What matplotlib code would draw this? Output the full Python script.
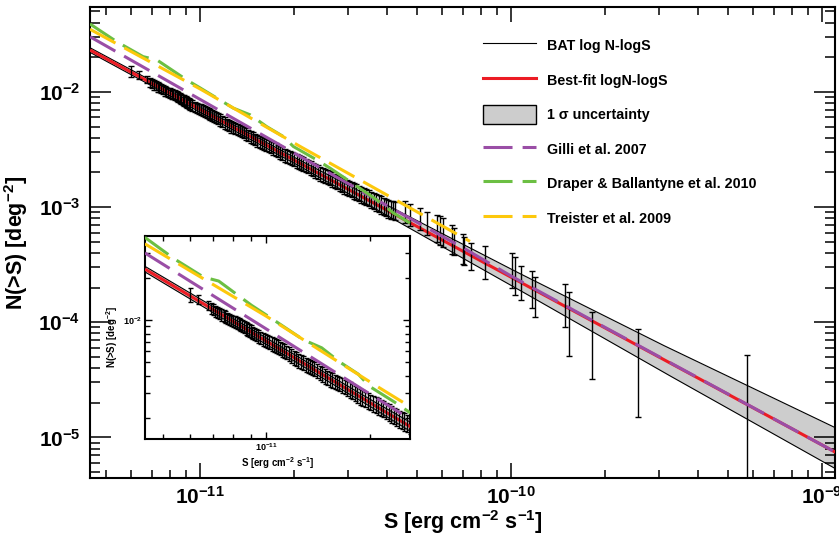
import numpy as np
import matplotlib
matplotlib.use("Agg")
import matplotlib.pyplot as plt
from matplotlib.lines import Line2D
from matplotlib.patches import Patch
from matplotlib.ticker import FixedLocator, FuncFormatter, LogLocator, NullFormatter

plt.rcParams["font.family"] = ["Liberation Sans", "DejaVu Sans"]
plt.rcParams["font.weight"] = "bold"
plt.rcParams["axes.labelweight"] = "bold"
plt.rcParams["mathtext.fontset"] = "custom"
plt.rcParams["mathtext.rm"] = "Liberation Sans:bold"
plt.rcParams["mathtext.it"] = "Liberation Sans:bold:italic"
plt.rcParams["mathtext.bf"] = "Liberation Sans:bold"
plt.rcParams["mathtext.default"] = "rm"

# ---------------- BAT cumulative counts, faint (dense) part ----------------
faint_flux = np.array([
    6.0, 6.34, 6.74, 6.9, 7.0, 7.1, 7.2, 7.3, 7.4, 7.5, 7.6, 7.7, 7.8, 7.9,
    8.0, 8.1, 8.2, 8.3, 8.4, 8.5, 8.6, 8.7, 8.8, 8.9, 9.0, 9.1, 9.2, 9.3,
    9.45, 9.6, 9.75, 9.9, 10.05, 10.2, 10.35, 10.5, 10.65, 10.8, 10.95, 11.1,
    11.25, 11.4, 11.6, 11.8, 12.0, 12.2, 12.4, 12.6, 12.8, 13.0, 13.2, 13.4,
    13.6, 13.8, 14.05, 14.3, 14.55, 14.8, 15.05, 15.3, 15.55, 15.8, 16.05,
    16.3, 16.6, 16.9, 17.2, 17.5, 17.8, 18.1, 18.4, 18.7, 19.05, 19.4, 19.75,
    20.1, 20.45, 20.8, 21.15, 21.5, 21.9, 22.3, 22.7, 23.1, 23.5, 23.9, 24.35,
    24.8, 25.25, 25.7, 26.15, 26.6, 27.1, 27.6, 28.1, 28.6, 29.1, 29.6, 30.15,
    30.7, 31.25, 31.8, 32.4, 33.0, 33.6, 34.2, 34.85, 35.5, 36.15, 36.8, 37.5,
    38.2, 38.9, 39.6, 40.3, 41.0, 41.75, 42.5]) * 1e-12
faint_counts = np.array([
    0.0150, 0.0140, 0.0127, 0.01215, 0.01182, 0.01150, 0.01128, 0.01105,
    0.01085, 0.01068, 0.01046, 0.01025, 0.01008, 0.00990, 0.00976, 0.00962,
    0.00948, 0.00935, 0.00918, 0.00905, 0.00888, 0.00872, 0.00855, 0.00840,
    0.00824, 0.00808, 0.00794, 0.00780, 0.00760, 0.00742, 0.00727, 0.00712,
    0.00700, 0.00688, 0.00674, 0.00662, 0.00650, 0.00640, 0.00625, 0.00612,
    0.00598, 0.00585, 0.00568, 0.00552, 0.00537, 0.00522, 0.00510, 0.00498,
    0.00489, 0.00480, 0.00471, 0.00462, 0.00453, 0.00445, 0.00432, 0.00420,
    0.00408, 0.00396, 0.00386, 0.00376, 0.00368, 0.00360, 0.00354, 0.00348,
    0.00340, 0.00332, 0.00324, 0.00316, 0.00307, 0.00298, 0.00290, 0.00282,
    0.00276, 0.00270, 0.00264, 0.00258, 0.00252, 0.00246, 0.00241, 0.00236,
    0.00230, 0.00224, 0.00218, 0.00212, 0.00206, 0.00200, 0.00195, 0.00190,
    0.00186, 0.00182, 0.00178, 0.00174, 0.00169, 0.00164, 0.00160, 0.00156,
    0.00152, 0.00149, 0.00145, 0.00142, 0.00138, 0.00135, 0.00131, 0.00128,
    0.00125, 0.00122, 0.00119, 0.00116, 0.00113, 0.00110, 0.00107, 0.00104,
    0.00101, 0.00099, 0.00097, 0.00095, 0.00094, 0.000925])
# 1-sigma error of each faint point, in dex
faint_err_dex = np.array([
    0.05, 0.034, 0.03, 0.04, 0.04, 0.04, 0.04, 0.04, 0.04, 0.04, 0.042, 0.042,
    0.042, 0.042, 0.042, 0.042, 0.042, 0.042, 0.045, 0.045, 0.045, 0.045,
    0.045, 0.045, 0.045, 0.045, 0.045, 0.045, 0.045, 0.045, 0.045, 0.045,
    0.048, 0.048, 0.048, 0.048, 0.048, 0.048, 0.048, 0.048, 0.048, 0.048,
    0.05, 0.05, 0.05, 0.05, 0.05, 0.05, 0.05, 0.05, 0.05, 0.05, 0.05, 0.05,
    0.05, 0.05, 0.052, 0.052, 0.052, 0.052, 0.052, 0.052, 0.052, 0.052,
    0.052, 0.052, 0.055, 0.055, 0.055, 0.055, 0.055, 0.055, 0.055, 0.055,
    0.055, 0.055, 0.058, 0.058, 0.058, 0.058, 0.058, 0.058, 0.06, 0.06, 0.06,
    0.06, 0.06, 0.06, 0.062, 0.062, 0.062, 0.062, 0.062, 0.062, 0.065, 0.065,
    0.065, 0.065, 0.065, 0.065, 0.068, 0.068, 0.068, 0.068, 0.07, 0.07, 0.07,
    0.07, 0.072, 0.072, 0.075, 0.075, 0.075, 0.075, 0.078, 0.078, 0.08, 0.08])

# ---------------- BAT cumulative counts, bright (sparse) part ----------------
bright_flux = np.array([
    4.56e-11, 4.73e-11, 5.09e-11, 5.37e-11, 5.78e-11, 5.92e-11, 6.04e-11,
    6.45e-11, 6.56e-11, 7.0e-11, 7.06e-11, 7.43e-11, 8.25e-11, 1.005e-10,
    1.03e-10, 1.074e-10, 1.166e-10, 1.194e-10, 1.49e-10, 1.54e-10, 1.817e-10,
    2.56e-10, 5.73e-10])
bright_counts = np.array([
    9.0e-4, 8.6e-4, 7.9e-4, 7.2e-4, 6.6e-4, 6.3e-4, 6.0e-4, 5.3e-4, 5.0e-4,
    4.4e-4, 4.2e-4, 3.75e-4, 3.3e-4, 2.8e-4, 2.5e-4, 2.2e-4, 1.95e-4, 1.7e-4,
    1.4e-4, 1.0e-4, 7.0e-5, 4.6e-5, 2.3e-5])
bright_lo = np.array([
    7.3e-4, 6.9e-4, 6.35e-4, 5.7e-4, 5.0e-4, 4.7e-4, 4.5e-4, 3.9e-4, 3.85e-4,
    3.2e-4, 3.16e-4, 2.85e-4, 2.37e-4, 1.98e-4, 1.73e-4, 1.55e-4, 1.33e-4,
    1.12e-4, 9.0e-5, 5.1e-5, 3.2e-5, 1.5e-5, 3.0e-6])
bright_hi = np.array([
    1.12e-3, 1.07e-3, 9.9e-4, 9.1e-4, 8.6e-4, 8.4e-4, 8.0e-4, 7.0e-4, 6.6e-4,
    5.8e-4, 5.5e-4, 4.9e-4, 4.55e-4, 4.0e-4, 3.68e-4, 3.05e-4, 2.76e-4,
    2.45e-4, 2.15e-4, 1.83e-4, 1.22e-4, 8.8e-5, 5.2e-5])

# ---------------- best-fit power law and its 1-sigma envelope ----------------
fit_pivot = 1e-11
fit_norm = 7.05e-3
fit_index = 1.457

band_flux = np.array([4.43e-12, 2e-11, 1e-10, 3e-10, 1.11e-9])
band_upper = np.array([2.415e-2, 2.716e-3, 2.891e-4, 6.546e-5, 1.205e-5])
band_lower = np.array([2.203e-2, 2.421e-3, 2.094e-4, 3.855e-5, 5.31e-6])

# ---------------- population-synthesis model predictions ----------------
gilli_flux = np.array([4.43e-12, 6e-12, 1e-11, 2e-11, 4e-11, 7e-11, 1e-10, 2e-10, 1.11e-9])
gilli_counts = np.array([3.01e-2, 1.888e-2, 8.61e-3, 2.96e-3, 1.026e-3, 4.44e-4,
                         2.52e-4, 9.06e-5, 7.38e-6])

draper_logflux = np.array([-11.354, -11.268, -11.183, -11.139, -11.043, -11.0,
                           -10.893, -10.839, -10.786, -10.732, -10.700, -10.625,
                           -10.582, -10.518, -10.432, -10.378, -10.325])
draper_logcounts = np.array([-1.410, -1.564, -1.694, -1.722, -1.896, -1.965,
                             -2.141, -2.199, -2.301, -2.388, -2.474, -2.590,
                             -2.662, -2.778, -2.937, -3.052, -3.139])

treister_logflux = np.array([-11.354, -11.0, -10.678, -10.357, -10.132])
treister_logcounts = np.array([-1.456, -1.974, -2.474, -2.959, -3.298])

RED = "#ec1c24"
PURPLE = "#9a4ea6"
GREEN = "#6cbf43"
YELLOW = "#fdc80c"
BAND = "#cdcdcd"
DASH = (0, (9.5, 3.3))


def loginterp(xq, x, y):
    return 10 ** np.interp(np.log10(xq), np.log10(x), np.log10(y))


def draw_content(ax, cap=2.2):
    s = np.logspace(np.log10(band_flux[0]), np.log10(band_flux[-1]), 400)
    up = loginterp(s, band_flux, band_upper)
    lo = loginterp(s, band_flux, band_lower)
    ax.fill_between(s, lo, up, color=BAND, lw=0, zorder=1)
    ax.plot(s, up, color="black", lw=0.8, zorder=2)
    ax.plot(s, lo, color="black", lw=0.8, zorder=2)
    ax.plot(s, fit_norm * (s / fit_pivot) ** (-fit_index), color=RED,
            lw=2.2, zorder=3, solid_capstyle="butt")

    f_lo = faint_counts * (1 - 10 ** (-faint_err_dex))
    f_hi = faint_counts * (10 ** faint_err_dex - 1)
    ax.errorbar(faint_flux, faint_counts, yerr=[f_lo, f_hi], fmt="none",
                ecolor="black", elinewidth=1.0, capsize=cap, capthick=1.0, zorder=4)
    ax.errorbar(bright_flux, bright_counts,
                yerr=[bright_counts - bright_lo, bright_hi - bright_counts],
                fmt="none", ecolor="black", elinewidth=1.0, capsize=cap,
                capthick=1.0, zorder=4)

    ax.plot(gilli_flux, gilli_counts, color=PURPLE, lw=2.2, ls=DASH, zorder=5)
    ax.plot(10 ** draper_logflux, 10 ** draper_logcounts, color=GREEN,
            lw=2.2, ls=DASH, zorder=5)
    ax.plot(10 ** treister_logflux, 10 ** treister_logcounts, color=YELLOW,
            lw=2.2, ls=DASH, zorder=6)


def pow10(v, pos):
    return r"$10^{%d}$" % int(round(np.log10(v)))


fig = plt.figure(figsize=(8.39, 5.39), dpi=100)
ax = fig.add_axes([90 / 839, 1 - 478 / 539, 745 / 839, 471 / 539])
ax.set_xscale("log")
ax.set_yscale("log")
ax.set_xlim(4.427e-12, 1.101e-9)
ax.set_ylim(4.44e-6, 5.46e-2)
draw_content(ax)

for sp in ax.spines.values():
    sp.set_linewidth(1.5)
ax.xaxis.set_major_locator(FixedLocator([1e-11, 1e-10, 1e-9]))
ax.yaxis.set_major_locator(FixedLocator([1e-5, 1e-4, 1e-3, 1e-2]))
ax.xaxis.set_major_formatter(FuncFormatter(pow10))
ax.yaxis.set_major_formatter(FuncFormatter(pow10))
ax.xaxis.set_minor_locator(LogLocator(base=10, subs=np.arange(2, 10), numticks=20))
ax.yaxis.set_minor_locator(LogLocator(base=10, subs=np.arange(2, 10), numticks=20))
ax.xaxis.set_minor_formatter(NullFormatter())
ax.yaxis.set_minor_formatter(NullFormatter())
ax.tick_params(which="both", direction="in", top=True, right=True, width=1.1)
ax.tick_params(axis="x", which="major", length=10.5, pad=6, labelsize=15)
ax.tick_params(axis="x", which="minor", length=5.5)
ax.tick_params(axis="y", which="major", length=15, pad=7, labelsize=15)
ax.tick_params(axis="y", which="minor", length=7.5)
ax.set_xlabel(r"S [erg cm$^{-2}$ s$^{-1}$]", fontsize=15.5, labelpad=0)
ax.set_ylabel(r"N(>S) [deg$^{-2}$]", fontsize=15.5, labelpad=6)

handles = [
    Line2D([], [], color="black", lw=0.8),
    Line2D([], [], color=RED, lw=2.2),
    Patch(facecolor=BAND, edgecolor="black", lw=1.0),
    Line2D([], [], color=PURPLE, lw=2.2, ls=DASH),
    Line2D([], [], color=GREEN, lw=2.2, ls=DASH),
    Line2D([], [], color=YELLOW, lw=2.2, ls=DASH),
]
labels = ["BAT log N-logS", "Best-fit logN-logS", "1 σ uncertainty",
          "Gilli et al. 2007", "Draper & Ballantyne et al. 2010",
          "Treister et al. 2009"]
ax.legend(handles, labels, loc="upper left",
          bbox_to_anchor=(483 / 839, 1 - 36 / 539), bbox_transform=fig.transFigure,
          frameon=False, fontsize=10.3, handlelength=3.7, handleheight=1.65,
          handletextpad=0.75, labelspacing=1.1, borderpad=0, borderaxespad=0)

# zoomed view of the faint end
ins = fig.add_axes([145 / 839, 1 - 439 / 539, 265 / 839, 203 / 539])
ins.set_facecolor("white")
ins.set_xscale("log")
ins.set_yscale("log")
ins.set_xlim(4.43e-12, 2.62e-11)
ins.set_ylim(1.41e-3, 3.98e-2)
draw_content(ins, cap=1.8)
for sp in ins.spines.values():
    sp.set_linewidth(1.5)
ins.xaxis.set_major_locator(FixedLocator([1e-11]))
ins.yaxis.set_major_locator(FixedLocator([1e-2]))
ins.xaxis.set_major_formatter(FuncFormatter(pow10))
ins.yaxis.set_major_formatter(FuncFormatter(pow10))
ins.xaxis.set_minor_locator(LogLocator(base=10, subs=np.arange(2, 10), numticks=20))
ins.yaxis.set_minor_locator(LogLocator(base=10, subs=np.arange(2, 10), numticks=20))
ins.xaxis.set_minor_formatter(NullFormatter())
ins.yaxis.set_minor_formatter(NullFormatter())
ins.tick_params(which="both", direction="in", top=True, right=True, width=1.0)
ins.tick_params(which="major", length=5, pad=2, labelsize=6.5)
ins.tick_params(which="minor", length=3.5)
ins.set_xlabel(r"S [erg cm$^{-2}$ s$^{-1}$]", fontsize=7, labelpad=1)
ins.set_ylabel(r"N(>S) [deg$^{-2}$]", fontsize=7, labelpad=2)
ins.set_zorder(10)

fig.savefig("out.png", dpi=100)
